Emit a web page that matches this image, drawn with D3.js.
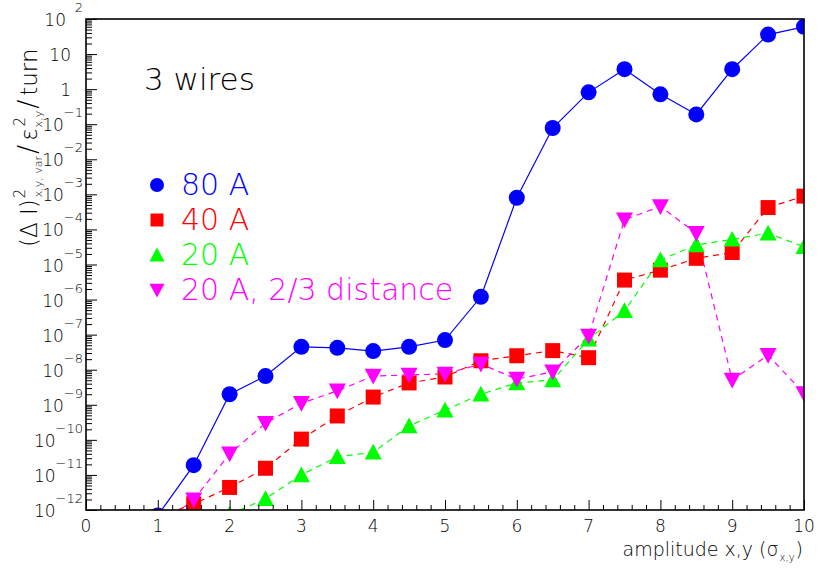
<!DOCTYPE html>
<html><head>
<meta charset="utf-8">
<script src="https://d3js.org/d3.v7.min.js"></script>
<style>
  body { margin: 0; background: #fff; }
  text { font-family: "DejaVu Sans", sans-serif; font-weight: 200; }
</style>
</head>
<body>
<svg id="chart" width="819" height="572"></svg>

<script>
  // amplitude in units of sigma
  const amplitude = [1, 1.5, 2, 2.5, 3, 3.5, 4, 4.5, 5, 5.5, 6, 6.5, 7, 7.5, 8, 8.5, 9, 9.5, 10];

  // (dI)^2 / eps^2 / turn
  const i80 = [7e-13, 1.9e-11, 2e-9, 6.6e-9, 4.5e-8, 4.2e-8, 3.4e-8, 4.5e-8, 7e-8, 1.2e-6,
               8e-4, 7.8e-2, 0.81, 3.7, 0.71, 0.19, 3.7, 36, 60];
  const i40 = [6.3e-13, 1.5e-12, 4.4e-12, 1.55e-11, 1.05e-10, 4.8e-10, 1.66e-9, 4.2e-9, 6.2e-9, 1.8e-8,
               2.5e-8, 3.5e-8, 2.2e-8, 3.6e-6, 6.9e-6, 1.5e-5, 2.2e-5, 4.2e-4, 8.9e-4];
  const i20 = [null, null, 7.4e-13, 2.1e-12, 1e-11, 3.3e-11, 4.4e-11, 2.5e-10, 7e-10, 2e-9,
               4.2e-9, 5.1e-9, 7.4e-8, 4.8e-7, 1.35e-5, 3.6e-5, 5.2e-5, 7.8e-5, 3.2e-5];
  const i20far = [3.4e-13, 1.95e-12, 4e-11, 3e-10, 1.1e-9, 2.5e-9, 6.6e-9, 7.1e-9, 7.6e-9, 1.45e-8,
                  5.4e-9, 8.7e-9, 9.1e-8, 1.9e-4, 4.5e-4, 7.8e-5, 5.1e-9, 2.6e-8, 2.1e-9];

  const seriesNames = ["80 A", "40 A", "20 A", "20 A, 2/3 distance"];
  const xTickLabels = ["0", "1", "2", "3", "4", "5", "6", "7", "8", "9", "10"];
  const yExponents = [2, 1, 0, -1, -2, -3, -4, -5, -6, -7, -8, -9, -10, -11, -12];

  const series = [
    { name: seriesNames[0], values: i80, color: "#0000ff", dash: null, shape: "circle" },
    { name: seriesNames[1], values: i40, color: "#ff0000", dash: "6,5", shape: "square" },
    { name: seriesNames[2], values: i20, color: "#00ff00", dash: "6,5", shape: "up" },
    { name: seriesNames[3], values: i20far, color: "#ff00ff", dash: "6,5", shape: "down" }
  ];

  const svg = d3.select("#chart");
  const frame = { left: 86, right: 804, top: 19, bottom: 510 };

  const x = d3.scaleLinear().domain([0, 10]).range([frame.left, frame.right]);
  const y = d3.scaleLog().domain([1e-12, 1e2]).range([frame.bottom, frame.top]);

  svg.append("clipPath").attr("id", "frame")
    .append("rect").attr("x", frame.left).attr("y", frame.top)
    .attr("width", frame.right - frame.left).attr("height", frame.bottom - frame.top);

  // marker paths
  function marker(shape, s) {
    if (shape === "circle") return d3.symbol(d3.symbolCircle, Math.PI * s * s)();
    if (shape === "square") return `M${-s},${-s}H${s}V${s}H${-s}Z`;
    if (shape === "up") return `M0,${-s}L${s},${s * 0.85}L${-s},${s * 0.85}Z`;
    return `M0,${s}L${s},${-s * 0.85}L${-s},${-s * 0.85}Z`;
  }
  const markerSize = { circle: 8, square: 7.5, up: 8.5, down: 8.5 };

  const plot = svg.append("g").attr("clip-path", "url(#frame)");
  const line = d3.line()
    .defined(d => d[1] != null)
    .x(d => x(d[0]))
    .y(d => y(d[1]));

  series.forEach(s => {
    const pts = amplitude.map((a, i) => [a, s.values[i]]);
    plot.append("path")
      .datum(pts)
      .attr("fill", "none")
      .attr("stroke", s.color)
      .attr("stroke-width", 1.2)
      .attr("stroke-dasharray", s.dash)
      .attr("d", line);
  });
  series.forEach(s => {
    const pts = amplitude.map((a, i) => [a, s.values[i]]).filter(d => d[1] != null);
    plot.selectAll(null).data(pts).join("path")
      .attr("transform", d => `translate(${x(d[0])},${y(d[1])})`)
      .attr("d", marker(s.shape, markerSize[s.shape]))
      .attr("fill", s.color);
  });

  // ticks
  const xMinor = d3.range(0, 51).filter(i => i % 5 !== 0).map(i => i / 5);
  svg.append("g").attr("transform", `translate(0,${frame.bottom})`)
    .call(d3.axisTop(x).tickValues(d3.range(0, 11)).tickSize(10).tickFormat(""));
  svg.append("g").attr("transform", `translate(0,${frame.bottom})`)
    .call(d3.axisTop(x).tickValues(xMinor).tickSize(5).tickFormat(""));

  const yMajor = yExponents.map(e => Math.pow(10, e));
  const yMinor = [];
  for (let e = -12; e < 2; e++) for (let k = 2; k < 10; k++) yMinor.push(k * Math.pow(10, e));
  svg.append("g").attr("transform", `translate(${frame.left},0)`)
    .call(d3.axisRight(y).tickValues(yMajor).tickSize(11).tickFormat(""));
  svg.append("g").attr("transform", `translate(${frame.left},0)`)
    .call(d3.axisRight(y).tickValues(yMinor).tickSize(6).tickFormat(""));
  svg.selectAll(".domain").remove();
  svg.selectAll(".tick line").attr("stroke", "#000").attr("stroke-width", 1);

  svg.append("rect")
    .attr("x", frame.left).attr("y", frame.top)
    .attr("width", frame.right - frame.left).attr("height", frame.bottom - frame.top)
    .attr("fill", "none").attr("stroke", "#000").attr("stroke-width", 1.6);

  // x tick labels
  svg.selectAll("text.xlab").data(xTickLabels).join("text")
    .attr("class", "xlab")
    .attr("x", (d, i) => x(i))
    .attr("y", 532)
    .attr("text-anchor", "middle")
    .attr("font-size", 17)
    .text(d => d);

  // y tick labels: 10^e
  yExponents.forEach(e => {
    const yy = y(Math.pow(10, e));
    if (e === 0 || e === 1) {
      svg.append("text").attr("x", 71).attr("y", yy + 7)
        .attr("text-anchor", "end").attr("font-size", 17)
        .text(e === 0 ? "1" : "10");
      return;
    }
    const sup = svg.append("text").attr("x", 83).attr("y", yy - 7)
      .attr("text-anchor", "end").attr("font-size", 13)
      .text(e < 0 ? "\u2212" + (-e) : String(e));
    const w = sup.node().getComputedTextLength();
    svg.append("text")
      .attr("x", Math.min(66, 83 - w))
      .attr("y", yy + 7)
      .attr("text-anchor", "end").attr("font-size", 17)
      .text("10");
  });

  // text made of pieces with super/subscripts; returns its length
  function richText(g, pieces) {
    let pos = 0, groupStart = 0, groupWidth = 0;
    pieces.forEach(p => {
      if (p.stack) pos = groupStart;
      else { pos = groupStart + groupWidth; groupStart = pos; groupWidth = 0; }
      const t = g.append("text")
        .attr("x", pos + (p.dx || 0))
        .attr("y", p.dy || 0)
        .attr("font-size", p.size)
        .text(p.t);
      groupWidth = Math.max(groupWidth, t.node().getComputedTextLength() + (p.dx || 0) + (p.gap || 0));
    });
    return groupStart + groupWidth;
  }

  // y axis title
  const yTitle = svg.append("g");
  richText(yTitle, [
    { t: "(\u0394 I)", size: 23 },
    { t: "2", size: 15, dy: -12, dx: 1 },
    { t: "x,y, var", size: 11, dy: 5, stack: true, dx: 2, gap: 2 },
    { t: "/", size: 27, gap: 4 },
    { t: "\u03b5", size: 23 },
    { t: "2", size: 15, dy: -12, dx: 2 },
    { t: "x,y", size: 11, dy: 5, stack: true, dx: 1, gap: 2 },
    { t: "/", size: 27, gap: 4 },
    { t: "turn", size: 23 }
  ]);
  yTitle.attr("transform", "translate(37,247) rotate(-90)");

  // x axis title
  const xTitle = svg.append("g");
  const xLen = richText(xTitle, [
    { t: "amplitude x,y (\u03c3", size: 19 },
    { t: "x,y", size: 10, dy: 5, dx: 1 },
    { t: ")", size: 19, dx: 1 }
  ]);
  xTitle.attr("transform", `translate(${803 - xLen},556)`);

  // label
  svg.append("text").attr("x", 144).attr("y", 90)
    .attr("font-size", 31).text("3 wires");

  // legend
  const legend = svg.append("g");
  series.forEach((s, i) => {
    const yy = 195 + i * 35;
    legend.append("path")
      .attr("transform", `translate(157,${yy - 10})`)
      .attr("d", marker(s.shape, markerSize[s.shape] - 1))
      .attr("fill", s.color);
    legend.append("text")
      .attr("x", 181).attr("y", yy)
      .attr("font-size", 30)
      .attr("fill", s.color)
      .text(s.name);
  });
</script>
</body>
</html>
